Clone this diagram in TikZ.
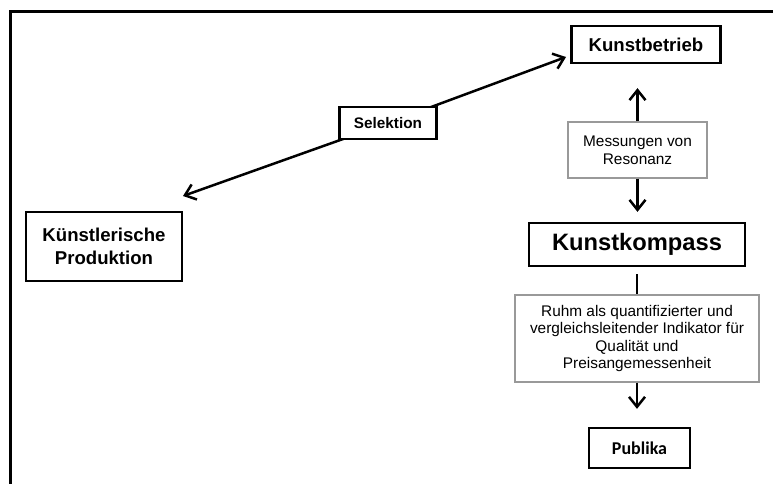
\documentclass[tikz,border=0pt]{standalone}
\usepackage{fontspec}
\setmainfont{Liberation Sans}
\newfontfamily\pubfont{Carlito}
\usetikzlibrary{arrows.meta,positioning,backgrounds}

\begin{document}
\begin{tikzpicture}[x=1pt, y=-1pt,
  box/.style={draw=black, line width=2.3pt, fill=white, inner sep=0pt, align=center, font=\bfseries},
  note/.style={draw=black!40, line width=1.2pt, fill=white, inner sep=0pt, align=center},
  arr/.style={line width=2.5pt, -{Straight Barb[length=10pt, width=16pt, line width=2.5pt]}}]
\useasboundingbox (0,0) rectangle (773,484);
\clip (0,0) rectangle (773,484);
\draw[line width=3pt] (10,11.5) rectangle (800,520);
\node[box, minimum width=149pt, minimum height=37pt, font=\bfseries\fontsize{18.6}{22}\selectfont] (betrieb) at (646,44.5) {Kunstbetrieb};
\node[box, minimum width=156pt, minimum height=69pt, font=\bfseries\fontsize{18.6}{23}\selectfont] (prod) at (104,246.5) {Künstlerische\\Produktion};
\node[box, minimum width=97pt, minimum height=32pt, font=\bfseries\fontsize{15.3}{18}\selectfont] (sel) at (388,123) {Selektion};
\node[note, minimum width=139pt, minimum height=56pt, font=\fontsize{15.4}{17.6}\selectfont] (mess) at (637.5,150) {Messungen von\\Resonanz};
\node[box, minimum width=216pt, minimum height=43pt, font=\bfseries\fontsize{23.7}{28}\selectfont] (kompass) at (637,244.5) {Kunstkompass};
\node[note, minimum width=244pt, minimum height=87pt, font=\fontsize{15.4}{17.6}\selectfont] (ruhm) at (637,338.5) {Ruhm als quantifizierter und\\vergleichsleitender Indikator für\\Qualität und\\Preisangemessenheit};
\node[box, minimum width=101pt, minimum height=40pt, font=\pubfont\bfseries\fontsize{18}{22}\selectfont] (pub) at (639.5,448) {Publika};
% Selektion
\coordinate (selA) at (183,196);
\coordinate (selB) at (566,57);
\begin{scope}[on background layer]
\draw[arr] (sel.center) -- (selA);
\draw[arr] (sel.center) -- (selB);
\end{scope}
% Resonanz
\draw[arr, shorten >=24pt] (mess.north) -- (mess.north |- betrieb.south);
\draw[arr, shorten >=10pt] (mess.south) -- (mess.south |- kompass.north);
% Ruhm
\draw[line width=2.5pt, shorten <=7pt] (kompass.south) -- (ruhm.north);
\draw[arr, shorten >=18pt] (ruhm.south) -- (ruhm.south |- pub.north);
\end{tikzpicture}
\end{document}
